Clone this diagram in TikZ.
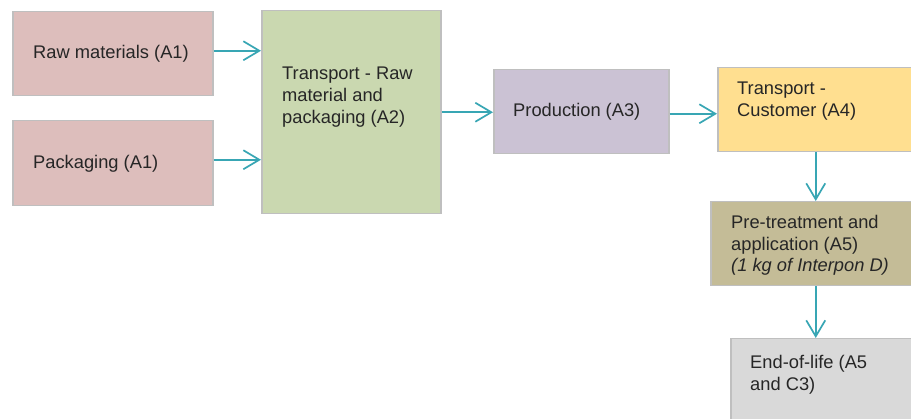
\documentclass[tikz,border=0pt]{standalone}
\usepackage{fontspec}
\setmainfont{Liberation Sans}
\usetikzlibrary{arrows.meta}
\definecolor{boxgray}{HTML}{BFBFBF}
\definecolor{rawfill}{HTML}{DDBEBC}
\definecolor{a2fill}{HTML}{CAD8B0}
\definecolor{prodfill}{HTML}{CBC2D4}
\definecolor{a4fill}{HTML}{FFDF90}
\definecolor{a5fill}{HTML}{C4BC97}
\definecolor{eolfill}{HTML}{D9D9D9}
\definecolor{arrowteal}{HTML}{38A6B4}
\definecolor{txt}{HTML}{262626}
\begin{document}
\begin{tikzpicture}[x=1pt,y=-1pt,
  box/.style={draw=boxgray, line width=1.5pt, inner sep=0pt, anchor=north west},
  lbl/.style={anchor=north west, inner sep=0pt, align=left, text=txt,
              font=\fontsize{18.3}{21.7}\selectfont},
  conn/.style={draw=arrowteal, line width=1.7pt, -{Straight Barb[length=16pt,width=19pt]}}]
\useasboundingbox (0,0) rectangle (911,419);
\clip (0,0) rectangle (911,419);
\fill[white] (0,0) rectangle (911,419);
% boxes
\node[box, fill=rawfill,  minimum width=200pt, minimum height=84pt]  (raw)  at (12,11)  {};
\node[box, fill=rawfill,  minimum width=200pt, minimum height=85pt]  (pack) at (12,120) {};
\node[box, fill=a2fill,   minimum width=179pt, minimum height=203pt] (a2)   at (261,10) {};
\node[box, fill=prodfill, minimum width=175pt, minimum height=84pt]  (prod) at (493,69) {};
\node[box, fill=a4fill,   minimum width=196pt, minimum height=84pt]  (a4)   at (717,67) {};
\node[box, fill=a5fill,   minimum width=210pt, minimum height=84pt]  (a5)   at (710,201) {};
\node[box, fill=eolfill,  minimum width=200pt, minimum height=100pt] (eol)  at (730,338) {};
% labels
\node[lbl] (rawt)  at (33,45)   {Raw materials (A1)};
\node[lbl] (packt) at (33,155)  {Packaging (A1)};
\node[lbl] (a2t)   at (282,67)  {Transport - Raw\\material and\\packaging (A2)};
\node[lbl] (prodt) at (513,103) {Production (A3)};
\node[lbl] (a4t)   at (737,82)  {Transport -\\Customer (A4)};
\node[lbl] (a5t)   at (731,215) {Pre-treatment and\\application (A5)\\\textit{(1 kg of Interpon D)}};
\node[lbl] (eolt)  at (750,355) {End-of-life (A5\\and C3)};
% connectors
\draw[conn] ([yshift=3pt]raw.east) -- ([yshift=3pt]raw.east -| a2.west);
\draw[conn] ([yshift=3.5pt]pack.east) -- ([yshift=3.5pt]pack.east -| a2.west);
\draw[conn] (a2.east) -- (a2.east -| prod.west);
\draw[conn] ([yshift=-2pt]prod.east) -- ([yshift=-2pt]prod.east -| a4.west);
\draw[conn] (a4.south) -- (a5.north);
\draw[conn] (a5.south) -- (a5.south |- eol.north);
\end{tikzpicture}
\end{document}
